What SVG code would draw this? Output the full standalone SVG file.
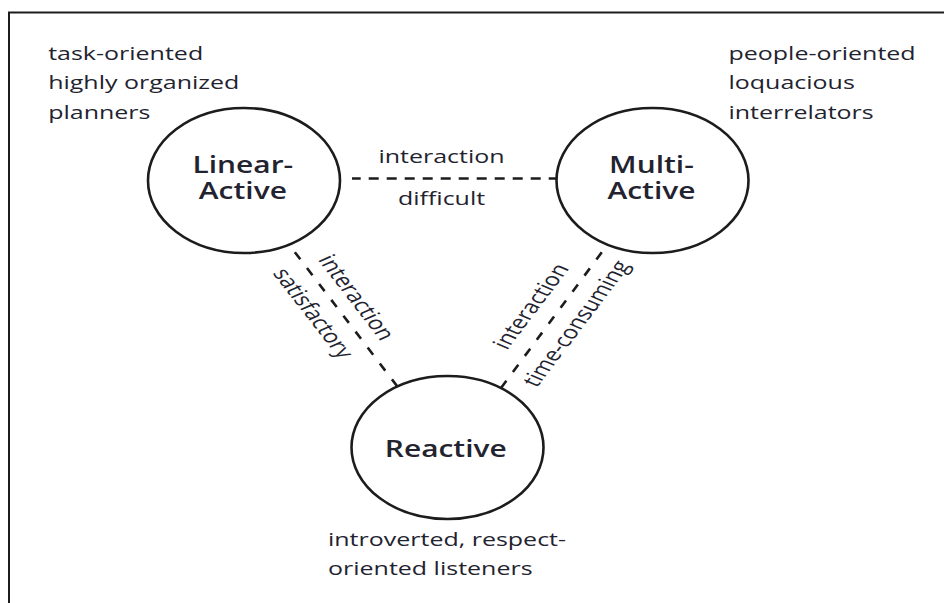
<svg xmlns="http://www.w3.org/2000/svg" width="944" height="603" viewBox="0 0 944 603">
  <style>
    .ring { fill: #fff; stroke: #1c1c1c; stroke-width: 2.6; }
    .link { fill: none; stroke: #1c1c1c; stroke-width: 2.6; stroke-dasharray: 10 8; }
    .diag { stroke-dasharray: 9 11; }
    .note { font-family: "Open Sans", "Noto Sans", sans-serif; font-size: 18.8px; fill: #232330; }
    .name { font-family: "Open Sans", "Noto Sans", sans-serif; font-size: 22.5px; font-weight: 600; fill: #232330; text-anchor: middle; }
    .mid { text-anchor: middle; }
  </style>

  <rect width="944" height="603" fill="#fff"/>
  <!-- outer frame, open to the right and bottom -->
  <path d="M 9 603 V 12.5 H 944" fill="none" stroke="#1c1c1c" stroke-width="2"/>

  <!-- dashed connectors with their labels -->
  <g id="connectors">
    <path class="link" d="M 558.7 178.5 H 352"/>
    <path class="link diag" d="M 397.4 386.5 L 293.8 250.8"/>
    <path class="link diag" d="M 501 388 L 602 252"/>
    <g transform="scale(1.33 1)">
      <text class="note mid" x="332" y="163.3">interaction</text>
      <text class="note mid" x="332" y="205.5">difficult</text>
      <text class="note mid" transform="translate(262.6 300.6) rotate(59.8)">interaction</text>
      <text class="note mid" transform="translate(230.1 316.4) rotate(59.8)">satisfactory</text>
      <text class="note mid" transform="translate(404.7 309.5) rotate(-60.2)">interaction</text>
      <text class="note mid" transform="translate(438.7 326.7) rotate(-60.2)">time-consuming</text>
    </g>
  </g>

  <g id="linear-active">
    <ellipse class="ring" cx="244" cy="180.5" rx="96" ry="72.5"/>
    <g transform="scale(1.33 1)">
      <text class="name" x="182.6" y="172.7">Linear-</text>
      <text class="name" x="182.6" y="199.5">Active</text>
      <text class="note" x="36.2" y="60">task-oriented</text>
      <text class="note" x="36.2" y="89.5">highly organized</text>
      <text class="note" x="36.2" y="119">planners</text>
    </g>
  </g>

  <g id="multi-active">
    <ellipse class="ring" cx="652.5" cy="180.5" rx="96" ry="72.5"/>
    <g transform="scale(1.33 1)">
      <text class="name" x="489.8" y="172.7">Multi-</text>
      <text class="name" x="489.8" y="199.5">Active</text>
      <text class="note" x="547.7" y="60">people-oriented</text>
      <text class="note" x="547.7" y="89.5">loquacious</text>
      <text class="note" x="547.7" y="119">interrelators</text>
    </g>
  </g>

  <g id="reactive">
    <ellipse class="ring" cx="447.5" cy="447.5" rx="96" ry="71.5"/>
    <g transform="scale(1.33 1)">
      <text class="name" x="335.2" y="456.7">Reactive</text>
      <text class="note" x="246.6" y="546.5">introverted, respect-</text>
      <text class="note" x="246.6" y="575.5">oriented listeners</text>
    </g>
  </g>
</svg>
